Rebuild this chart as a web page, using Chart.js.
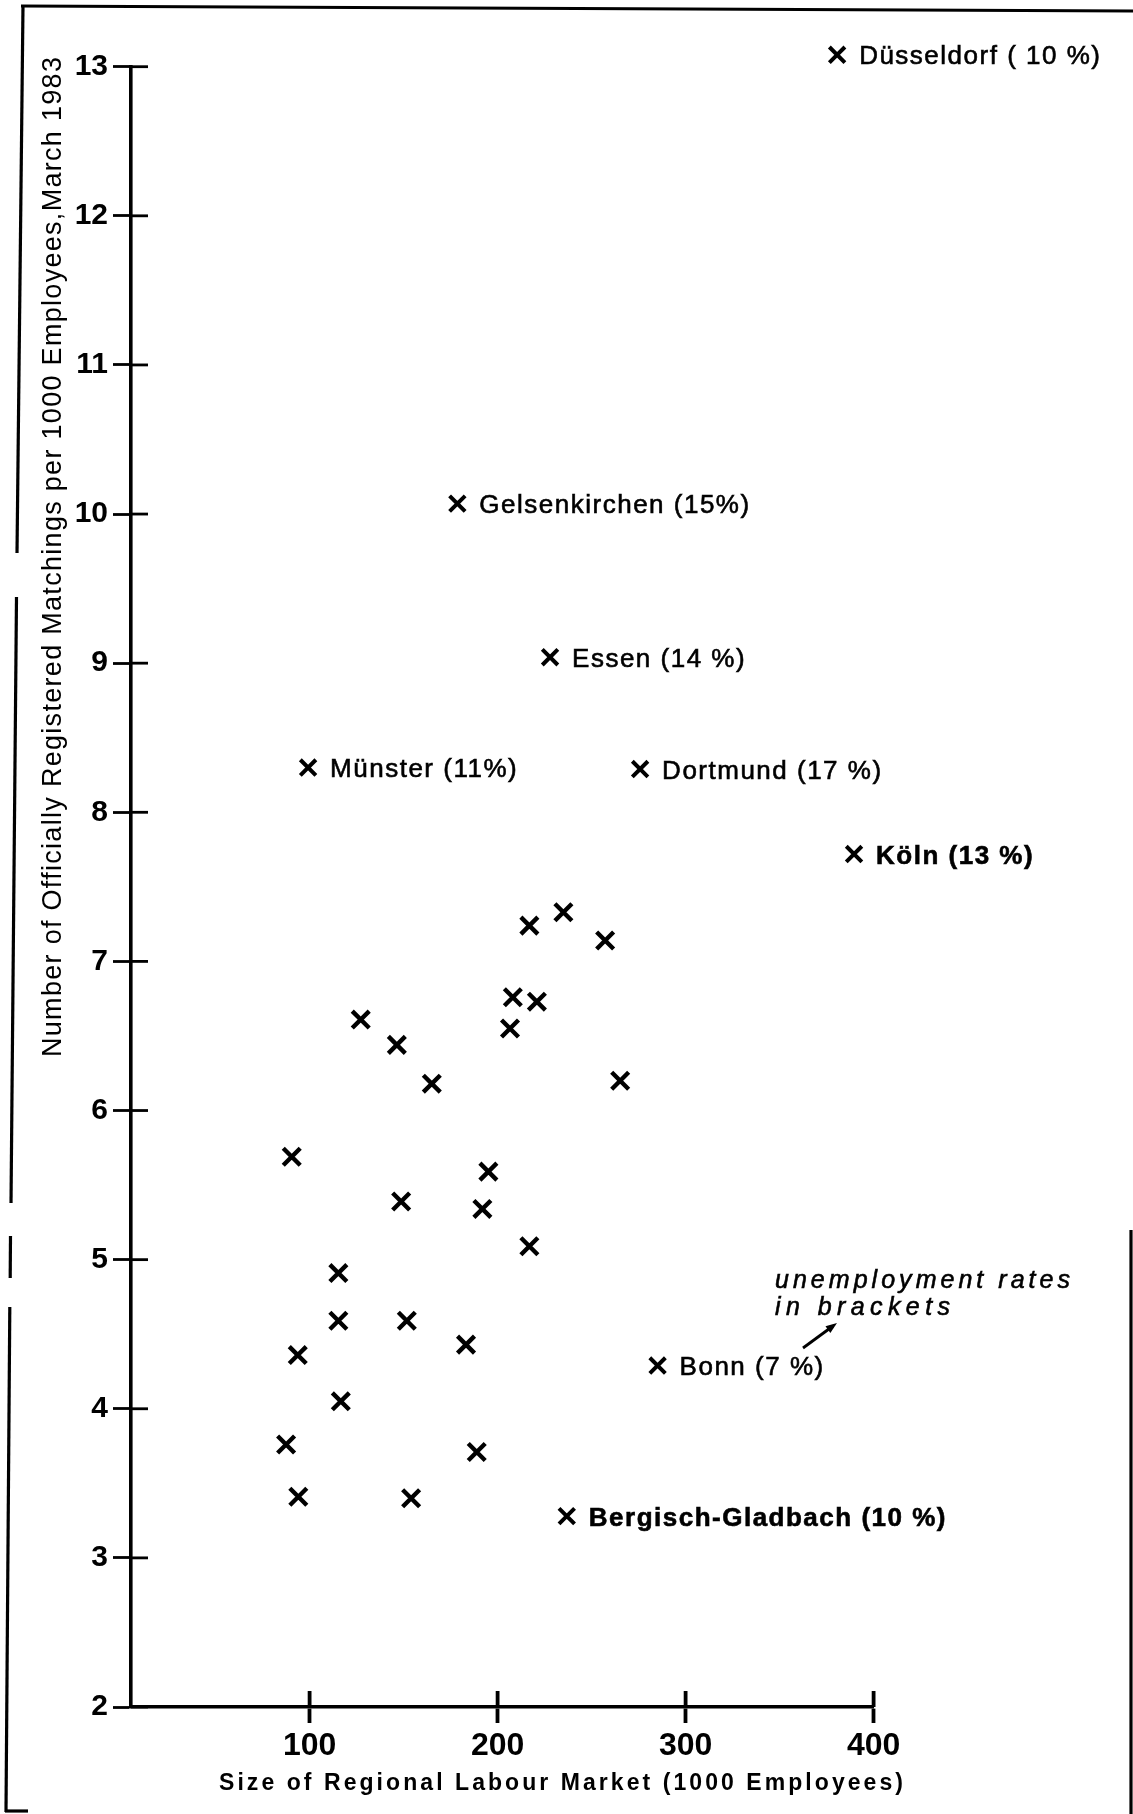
<!DOCTYPE html>
<html>
<head>
<meta charset="utf-8">
<script src="https://cdn.jsdelivr.net/npm/chart.js@4"></script>
<style>
html,body{margin:0;padding:0;background:#fff;}
canvas{display:block;}
</style>
</head>
<body>
<canvas id="c" width="1133" height="1814"></canvas>
<script>
// ---------- data ----------
const xTickValues = [100, 200, 300, 400];
const yTickValues = [2, 3, 4, 5, 6, 7, 8, 9, 10, 11, 12, 13];

const cityNames = ['Düsseldorf ( 10 %)', 'Gelsenkirchen (15%)', 'Essen (14 %)', 'Münster (11%)',
                   'Dortmund (17 %)', 'Köln (13 %)', 'Bonn (7 %)', 'Bergisch-Gladbach (10 %)'];
const cityX = [380.6, 178.6, 227.9, 99.2, 275.8, 389.6, 285.1, 236.8];
const cityY = [13.08, 10.07, 9.04, 8.30, 8.29, 7.72, 4.29, 3.28];

const otherX = [216.9, 235.0, 257.2, 208.1, 220.9, 127.2, 206.6, 146.4, 165.0, 265.2,
                90.5, 195.1, 148.7, 191.9, 216.9, 115.3, 115.3, 151.7, 93.7, 183.2,
                116.6, 87.5, 188.9, 94.0, 154.0];
const otherY = [7.24, 7.33, 7.14, 6.76, 6.73, 6.61, 6.55, 6.44, 6.18, 6.20,
                5.69, 5.59, 5.39, 5.34, 5.09, 4.91, 4.59, 4.59, 4.36, 4.43,
                4.05, 3.76, 3.71, 3.41, 3.40];

const xTitle = 'Size of Regional Labour Market (1000 Employees)';
const yTitle = 'Number of Officially Registered Matchings per 1000 Employees,March 1983';
const noteLines = ['unemployment rates', 'in brackets'];

// ---------- styles ----------
const FONT = "'Liberation Sans', Arial, sans-serif";
const INK = '#000';
const boldCities = new Set([5, 7]);

function fitText(c, text, x, y, width, font, stroke) {
  c.font = font;
  const hasLS = ('letterSpacing' in c);
  if (hasLS) c.letterSpacing = '0px';
  const w = c.measureText(text).width;
  const n = Array.from(text).length;
  if (hasLS && n > 1) {
    c.letterSpacing = ((width - w) / (n - 1)).toFixed(2) + 'px';
    c.fillText(text, x, y);
    if (stroke) { c.lineWidth = stroke; c.strokeText(text, x, y); }
    c.letterSpacing = '0px';
  } else {
    c.save(); c.translate(x, y); c.scale(width / w, 1); c.fillText(text, 0, 0); c.restore();
  }
}

function seg(c, x1, y1, x2, y2) { c.beginPath(); c.moveTo(x1, y1); c.lineTo(x2, y2); c.stroke(); }

const decor = {
  id: 'decor',
  beforeDraw(chart) {
    const c = chart.ctx;
    c.save(); c.fillStyle = '#fff'; c.fillRect(0, 0, chart.width, chart.height); c.restore();
  },
  afterDraw(chart) {
    const c = chart.ctx, xs = chart.scales.x, ys = chart.scales.y, a = chart.chartArea;
    c.save();
    c.strokeStyle = INK; c.fillStyle = INK; c.lineCap = 'butt';
    // inner halves of the crossing tick marks
    c.lineWidth = 2.8;
    ys.ticks.forEach(t => { const p = ys.getPixelForValue(t.value); seg(c, a.left, p, a.left + 17, p); });
    c.lineWidth = 3.8;
    xs.ticks.forEach(t => { const p = xs.getPixelForValue(t.value); seg(c, p, a.bottom, p, a.bottom - 16); });

    // city labels
    c.textAlign = 'left'; c.textBaseline = 'alphabetic';
    if ('letterSpacing' in c) c.letterSpacing = '1.5px';
    cityNames.forEach((name, i) => {
      const px = xs.getPixelForValue(cityX[i]) + 22;
      const py = ys.getPixelForValue(cityY[i]) + 9.5;
      c.font = (boldCities.has(i) ? 'bold ' : '') + '26px ' + FONT;
      c.fillText(name, px, py);
      c.lineWidth = 0.6; c.strokeText(name, px, py);
    });
    if ('letterSpacing' in c) c.letterSpacing = '0px';

    // axis titles
    fitText(c, xTitle, 219, 1790, 684, 'bold 23px ' + FONT);
    c.save();
    c.translate(61, 1057); c.rotate(-Math.PI / 2);
    fitText(c, yTitle, 0, 0, 1000, '27px ' + FONT);
    c.restore();

    // note + arrow
    fitText(c, noteLines[0], 775, 1288, 295, 'italic 25px ' + FONT, 0.6);
    fitText(c, noteLines[1], 775, 1315, 175, 'italic 25px ' + FONT, 0.6);
    c.lineWidth = 2.8;
    const ax1 = 803, ay1 = 1348, ax2 = 837, ay2 = 1323;
    seg(c, ax1, ay1, ax2 - 4, ay2 + 3);
    const ang = Math.atan2(ay2 - ay1, ax2 - ax1);
    c.beginPath();
    c.moveTo(ax2, ay2);
    c.lineTo(ax2 - 12 * Math.cos(ang - 0.35), ay2 - 12 * Math.sin(ang - 0.35));
    c.lineTo(ax2 - 12 * Math.cos(ang + 0.35), ay2 - 12 * Math.sin(ang + 0.35));
    c.closePath(); c.fill();

    // scanned page frame
    c.lineWidth = 3.2;
    seg(c, 21, 6, 1133, 11);
    seg(c, 23, 5, 17, 553);
    seg(c, 16.5, 597, 11, 1203);
    seg(c, 10.5, 1236, 10.2, 1278);
    seg(c, 9.8, 1307, 6, 1812);
    seg(c, 5, 1811, 28, 1811);
    seg(c, 1131, 1230, 1131, 1814);
    c.restore();
  }
};

const cross = {
  pointStyle: 'crossRot',
  borderColor: INK,
  backgroundColor: INK,
  showLine: false,
  clip: false
};

new Chart(document.getElementById('c').getContext('2d'), {
  type: 'scatter',
  data: {
    datasets: [
      Object.assign({ label: 'other regions', data: otherX.map((x, i) => ({ x: x, y: otherY[i] })),
                      pointRadius: 12, borderWidth: 4.4 }, cross),
      Object.assign({ label: 'named regions', data: cityX.map((x, i) => ({ x: x, y: cityY[i] })),
                      pointRadius: 11, borderWidth: 4 }, cross)
    ]
  },
  options: {
    responsive: false,
    animation: false,
    devicePixelRatio: 1,
    events: [],
    layout: { padding: { top: 66.7, right: 259.4, bottom: 0, left: 0 } },
    plugins: { legend: { display: false }, tooltip: { enabled: false } },
    scales: {
      x: {
        type: 'linear', min: 5, max: 400,
        afterBuildTicks: s => { s.ticks = xTickValues.map(v => ({ value: v })); },
        afterFit: s => { s.height = 107; },
        grid: { drawOnChartArea: false, drawTicks: true, tickLength: 16, tickWidth: 3.8, color: INK },
        border: { display: true, width: 3.6, color: INK },
        ticks: { font: { family: FONT, size: 32, weight: 'bold' }, color: INK, padding: 4, maxRotation: 0 }
      },
      y: {
        type: 'linear', min: 2, max: 13,
        afterBuildTicks: s => { s.ticks = yTickValues.map(v => ({ value: v })); },
        afterFit: s => { s.width = 131; },
        grid: { drawOnChartArea: false, drawTicks: true, tickLength: 18, tickWidth: 2.8, color: INK },
        border: { display: true, width: 3.6, color: INK },
        ticks: { font: { family: FONT, size: 30, weight: 'bold' }, color: INK, padding: 5 }
      }
    }
  },
  plugins: [decor]
});
</script>
</body>
</html>
